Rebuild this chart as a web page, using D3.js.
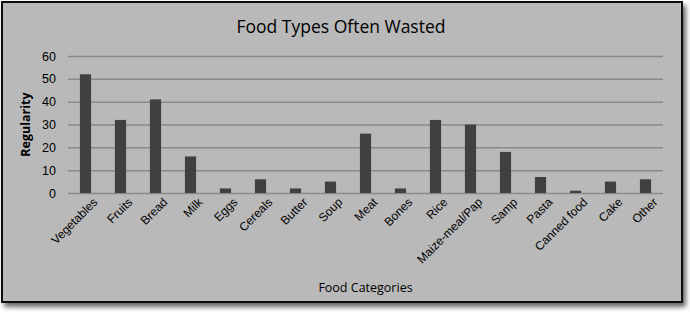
<!DOCTYPE html>
<html>
  <head>
    <meta charset="utf-8">
    <title>Food Types Often Wasted</title>
    <script src="https://d3js.org/d3.v7.min.js"></script>
    <style>
      body { margin: 0; background: #fff; }
      .chart { font-family: "Open Sans", sans-serif; }
      .grid line { stroke: #8a8a8a; stroke-width: 1.5; }
      .grid path { display: none; }
      .axis text { font-size: 12px; fill: #000; }
      .axis path, .axis line { display: none; }
    </style>
  </head>
  <body>
    <svg class="chart" width="690" height="315"></svg>
    <script>
      // Categories and counts
      const categories = ["Vegetables", "Fruits", "Bread", "Milk", "Eggs", "Cereals", "Butter", "Soup",
        "Meat", "Bones", "Rice", "Maize-meal/Pap", "Samp", "Pasta", "Canned food", "Cake", "Other"];
      const values = [52, 32, 41, 16, 2, 6, 2, 5, 26, 2, 32, 30, 18, 7, 1, 5, 6];
      const yTicks = [0, 10, 20, 30, 40, 50, 60];

      const svg = d3.select(".chart");

      // Shadow and frame
      const defs = svg.append("defs");
      const f = defs.append("filter").attr("id", "shadow").attr("x", "-5%").attr("y", "-5%")
        .attr("width", "115%").attr("height", "120%");
      f.append("feDropShadow").attr("dx", 3).attr("dy", 4).attr("stdDeviation", 2.5)
        .attr("flood-color", "#000").attr("flood-opacity", 0.6);

      svg.append("rect")
        .attr("x", 2).attr("y", 2).attr("width", 680).attr("height", 300)
        .attr("fill", "#b9b9b9").attr("stroke", "#111").attr("stroke-width", 2)
        .attr("filter", "url(#shadow)");

      const margin = { top: 56, left: 68, right: 27, bottom: 122 };
      const width = 690 - margin.left - margin.right;
      const height = 315 - margin.top - margin.bottom;

      const g = svg.append("g").attr("transform", "translate(" + margin.left + "," + margin.top + ")");

      const x = d3.scaleBand().domain(categories).range([0, width]).paddingInner(0.68).paddingOuter(0.34);
      const y = d3.scaleLinear().domain([0, 60]).range([height, 0]);

      // Gridlines
      g.append("g").attr("class", "grid")
        .call(d3.axisLeft(y).tickValues(yTicks).tickSize(-width).tickFormat(""));

      // Bars
      g.selectAll(".bar")
        .data(values)
        .enter().append("rect")
        .attr("class", "bar")
        .attr("x", (d, i) => x(categories[i]))
        .attr("y", d => y(d))
        .attr("width", x.bandwidth())
        .attr("height", d => y(0) - y(d))
        .attr("fill", "#404040");

      // Y axis labels
      g.append("g").attr("class", "axis")
        .call(d3.axisLeft(y).tickValues(yTicks).tickSize(0).tickPadding(12))
        .selectAll("text").style("font-size", "12.5px");

      // X axis labels rotated
      g.append("g").attr("class", "axis")
        .attr("transform", "translate(0," + height + ")")
        .call(d3.axisBottom(x).tickSize(0).tickPadding(8))
        .selectAll("text")
        .attr("text-anchor", "end")
        .attr("dx", "2")
        .attr("dy", "8")
        .attr("transform", "rotate(-45)");

      // Titles
      svg.append("text")
        .attr("x", 341).attr("y", 33)
        .attr("text-anchor", "middle")
        .style("font-size", "17.5px").style("fill", "#000")
        .text("Food Types Often Wasted");

      svg.append("text")
        .attr("transform", "translate(30," + (margin.top + height / 2) + ") rotate(-90)")
        .attr("text-anchor", "middle")
        .style("font-size", "12.5px").style("font-weight", "bold").style("fill", "#000")
        .text("Regularity");

      svg.append("text")
        .attr("x", margin.left + width / 2).attr("y", 292)
        .attr("text-anchor", "middle")
        .style("font-size", "12.5px").style("fill", "#000")
        .text("Food Categories");
    </script>
  </body>
</html>
